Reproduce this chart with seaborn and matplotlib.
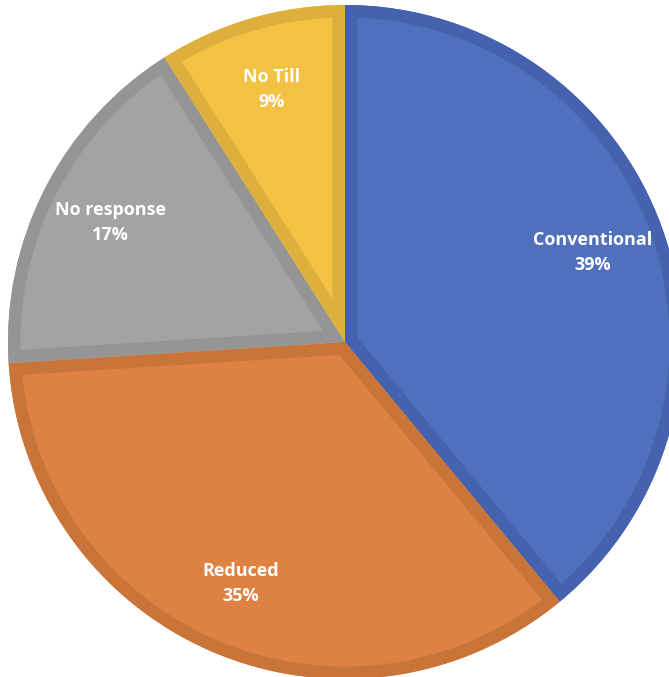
import matplotlib
matplotlib.use("Agg")
import matplotlib.pyplot as plt
from matplotlib.patches import PathPatch
import seaborn as sns

# --------------------------- DATA ---------------------------
categories = ['Conventional', 'Reduced', 'No response', 'No Till']
shares = [39, 35, 17, 9]
fill_colors = ['#5070BD', '#DE8243', '#A3A3A3', '#F3C242']
edge_colors = ['#4462AD', '#C97439', '#959595', '#DDB03D']

# --------------------------- SETTINGS ---------------------------
sns.set_theme(style="white")
plt.rcParams['font.family'] = ['Open Sans', 'DejaVu Sans']

fig = plt.figure(figsize=(6.69, 6.77), dpi=100)
ax = fig.add_axes([0, 0, 1, 1])

labels = [f"{c}\n{s}%" for c, s in zip(categories, shares)]
wedges, texts = ax.pie(shares, labels=labels, colors=fill_colors,
                       startangle=90, counterclock=False, radius=1,
                       labeldistance=0.78,
                       wedgeprops={'linewidth': 0},
                       textprops={'color': 'white', 'fontsize': 13,
                                  'fontweight': 'bold', 'ha': 'center',
                                  'va': 'center', 'linespacing': 1.5})

# inner border: a stroke twice as wide, clipped to the wedge
for w, ec in zip(wedges, edge_colors):
    border = PathPatch(w.get_path(), transform=w.get_transform(),
                       facecolor='none', edgecolor=ec, linewidth=18)
    ax.add_patch(border)
    border.set_clip_path(w)

for t in texts:
    t.set_horizontalalignment('center')
    t.set_zorder(5)

# pie centre at (345, 342) px, radius 337 px, slightly cut at right/bottom
r_px = 337.0
ax.set_xlim(-345 / r_px, (669 - 345) / r_px)
ax.set_ylim(-(677 - 342) / r_px, 342 / r_px)
ax.set_aspect('auto')
ax.axis('off')

fig.savefig('out.png', dpi=100, facecolor='white')
